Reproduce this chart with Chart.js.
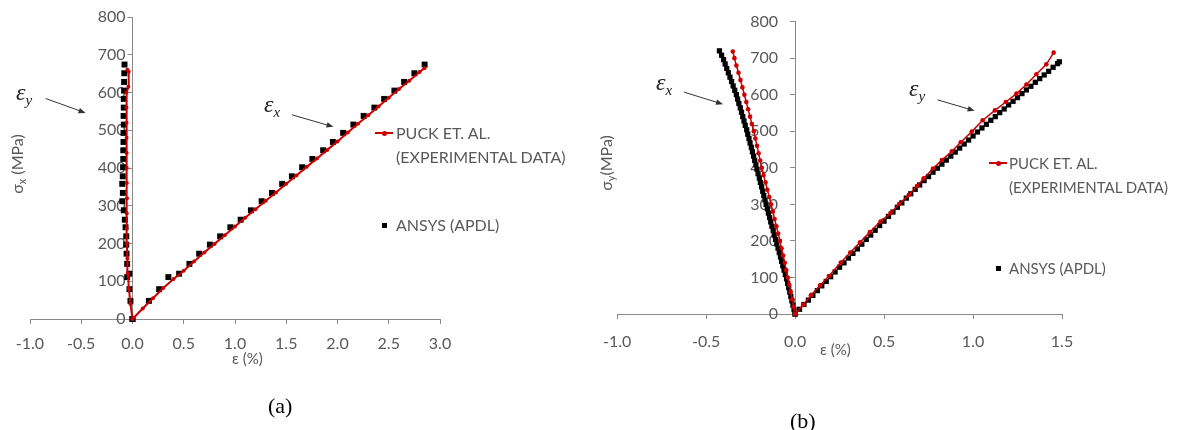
<!DOCTYPE html>
<html><head><meta charset="utf-8">
<script src="https://cdn.jsdelivr.net/npm/chart.js@4"></script>
<style>
html,body{margin:0;padding:0;background:#fff;}
body{width:1189px;height:430px;position:relative;overflow:hidden;font-family:Lato,"Noto Sans",sans-serif;color:#595959;}
canvas{position:absolute;top:0;}
#ca{left:0}
#cb{left:590px}
.t{position:absolute;white-space:nowrap;line-height:24px;}
.eps{position:absolute;white-space:nowrap;font-family:"Liberation Serif","DejaVu Serif",serif;font-style:italic;font-size:24px;line-height:24px;color:#222;}
.eps sub{font-size:15px;vertical-align:-5px;line-height:0;}
.ytitle{position:absolute;white-space:nowrap;transform:translate(-50%,-50%) rotate(-90deg);font-size:16px;}
.ytitle sub{font-size:11px;vertical-align:-3px;line-height:0;}
.lab{position:absolute;font-family:"Liberation Serif","Times New Roman",serif;font-size:22px;color:#000;white-space:nowrap;}
.rl{position:absolute;height:2px;background:#cc0000;}
.rd{position:absolute;width:5px;height:5px;border-radius:50%;background:#cc0000;}
.sq{position:absolute;width:5px;height:5px;background:#000;}
</style></head><body>
<canvas id="ca" width="590" height="430"></canvas>
<canvas id="cb" width="599" height="430"></canvas>

<!-- chart (a) texts -->
<div class="ytitle" style="left:16px;top:164px;">σ<sub>x</sub> (MPa)</div>
<div class="t" style="left:232px;top:346px;font-size:15px;">ε (%)</div>
<div class="eps" style="left:16px;top:80px;">ε<sub>y</sub></div>
<div class="eps" style="left:264px;top:92px;">ε<sub>x</sub></div>
<div class="rl" style="left:375px;top:132px;width:18px;"></div>
<div class="rd" style="left:381.5px;top:130.5px;"></div>
<div class="t" style="left:396px;top:121px;font-size:16px;">PUCK ET. AL.<br>(EXPERIMENTAL DATA)</div>
<div class="sq" style="left:381.5px;top:222.5px;"></div>
<div class="t" style="left:396px;top:213px;font-size:16px;">ANSYS (APDL)</div>
<div class="lab" style="left:268px;top:393px;">(a)</div>

<!-- chart (b) texts -->
<div class="ytitle" style="left:605px;top:163px;">σ<sub>y</sub>(MPa)</div>
<div class="t" style="left:820px;top:337px;font-size:15px;">ε (%)</div>
<div class="eps" style="left:656px;top:70px;">ε<sub>x</sub></div>
<div class="eps" style="left:909px;top:76px;">ε<sub>y</sub></div>
<div class="rl" style="left:989px;top:162px;width:18px;"></div>
<div class="rd" style="left:995.5px;top:160.5px;"></div>
<div class="t" style="left:1009px;top:151px;font-size:15px;">PUCK ET. AL.<br>(EXPERIMENTAL DATA)</div>
<div class="sq" style="left:995.5px;top:265.5px;"></div>
<div class="t" style="left:1009px;top:256px;font-size:15px;">ANSYS (APDL)</div>
<div class="lab" style="left:790px;top:408px;">(b)</div>

<script>
// ---------- Chart (a): sigma_x loading ----------
const aPuckExStrain = [0, 0.1, 0.2, 0.3, 0.4, 0.5, 0.6, 0.7, 0.8, 0.9, 1.0, 1.1, 1.2, 1.3, 1.4, 1.5, 1.6, 1.7, 1.8, 1.9, 2.0, 2.1, 2.2, 2.3, 2.4, 2.5, 2.6, 2.7, 2.8, 2.85];
const aPuckExStress = [0, 28, 55, 82, 106, 128, 152, 176, 199, 222, 245, 268, 291, 313, 335, 358, 380, 403, 425, 448, 470, 494, 517, 540, 563, 586, 609, 631, 654, 665];
const aPuckEyStrain = [0, -0.02, -0.035, -0.045, -0.05, -0.055, -0.058, -0.056, -0.054, -0.055, -0.056, -0.057, -0.058, -0.058, -0.059, -0.06, -0.04, -0.037, -0.05];
const aPuckEyStress = [0, 40, 80, 120, 160, 200, 240, 280, 320, 360, 400, 440, 480, 520, 560, 600, 615, 655, 660];
const aAnsysStress = [0, 48, 79, 111, 120, 146, 173, 197, 219, 243, 263, 288, 312, 334, 358, 378, 402, 424, 447, 469, 493, 515, 538, 560, 583, 605, 628, 651, 674];
const aAnsysExStrain = [0, 0.16, 0.26, 0.35, 0.455, 0.555, 0.65, 0.755, 0.855, 0.955, 1.055, 1.155, 1.26, 1.36, 1.46, 1.555, 1.655, 1.755, 1.86, 1.955, 2.055, 2.155, 2.255, 2.36, 2.455, 2.555, 2.65, 2.75, 2.85];
const aAnsysEyStrain = [0, -0.02, -0.03, -0.052, -0.03, -0.052, -0.058, -0.061, -0.061, -0.068, -0.075, -0.085, -0.1, -0.094, -0.1, -0.095, -0.092, -0.09, -0.09, -0.088, -0.088, -0.085, -0.087, -0.085, -0.085, -0.082, -0.082, -0.08, -0.078];
const aXTicks = [-1.0, -0.5, 0.0, 0.5, 1.0, 1.5, 2.0, 2.5, 3.0];
const aYTicks = [0, 100, 200, 300, 400, 500, 600, 700, 800];

// ---------- Chart (b): sigma_y loading ----------
const bPuckExStress = [0, 20, 40, 60, 80, 100, 120, 140, 160, 180, 200, 220, 240, 260, 280, 300, 320, 340, 360, 380, 400, 420, 440, 460, 480, 500, 520, 540, 560, 580, 600, 620, 640, 660, 680, 700, 718];
const bPuckExStrain = [0, -0.008, -0.016, -0.025, -0.033, -0.041, -0.05, -0.058, -0.067, -0.076, -0.085, -0.095, -0.105, -0.115, -0.125, -0.135, -0.145, -0.156, -0.166, -0.177, -0.187, -0.196, -0.205, -0.214, -0.223, -0.232, -0.243, -0.253, -0.264, -0.274, -0.285, -0.296, -0.307, -0.318, -0.33, -0.341, -0.35];
const bPuckEyStrain = [0, 0.045, 0.089, 0.14, 0.19, 0.257, 0.31, 0.365, 0.42, 0.48, 0.536, 0.585, 0.639, 0.685, 0.723, 0.775, 0.825, 0.881, 0.931, 0.993, 1.054, 1.123, 1.184, 1.244, 1.30, 1.356, 1.412, 1.453];
const bPuckEyStress = [0, 25, 51, 78, 104, 141, 168, 196, 224, 253, 276, 301, 326, 350, 371, 398, 421, 445, 470, 499, 530, 557, 580, 603, 628, 656, 683, 715];
const bAnsysExStress = [0, 12, 24, 36, 48, 60, 72, 84, 96, 108, 120, 132, 144, 156, 168, 180, 192, 204, 216, 228, 240, 252, 264, 276, 288, 300, 312, 324, 336, 348, 360, 372, 384, 396, 408, 420, 432, 444, 456, 468, 480, 492, 504, 516, 528, 540, 552, 564, 576, 588, 600, 612, 624, 636, 648, 660, 672, 684, 696, 708, 720];
const bAnsysExStrain = [0, -0.006, -0.012, -0.018, -0.024, -0.03, -0.036, -0.042, -0.048, -0.055, -0.062, -0.069, -0.076, -0.082, -0.089, -0.096, -0.103, -0.11, -0.117, -0.123, -0.13, -0.137, -0.143, -0.15, -0.156, -0.163, -0.169, -0.176, -0.182, -0.188, -0.195, -0.201, -0.208, -0.214, -0.22, -0.227, -0.233, -0.24, -0.246, -0.253, -0.259, -0.266, -0.272, -0.28, -0.287, -0.294, -0.301, -0.308, -0.316, -0.323, -0.33, -0.339, -0.348, -0.357, -0.366, -0.375, -0.384, -0.393, -0.402, -0.413, -0.425];
const bAnsysEyStrain = [0, 0.025, 0.05, 0.075, 0.1, 0.125, 0.15, 0.175, 0.2, 0.225, 0.25, 0.275, 0.3, 0.325, 0.35, 0.375, 0.4, 0.425, 0.45, 0.475, 0.5, 0.525, 0.55, 0.575, 0.6, 0.625, 0.65, 0.675, 0.7, 0.725, 0.75, 0.775, 0.8, 0.825, 0.85, 0.875, 0.9, 0.925, 0.95, 0.975, 1.0, 1.025, 1.05, 1.075, 1.1, 1.125, 1.15, 1.175, 1.2, 1.225, 1.25, 1.275, 1.3, 1.325, 1.35, 1.375, 1.4, 1.425, 1.45, 1.475, 1.485];
const bAnsysEyStress = [0, 13, 26, 38, 51, 64, 77, 89, 102, 115, 128, 140, 153, 166, 178, 191, 204, 216, 229, 242, 254, 267, 279, 292, 304, 317, 329, 341, 353, 365, 376, 388, 399, 410, 421, 432, 443, 454, 465, 476, 487, 498, 509, 519, 530, 540, 551, 561, 572, 582, 592, 603, 613, 623, 634, 644, 654, 664, 675, 685, 690];
const bXTicks = [-1.0, -0.5, 0.0, 0.5, 1.0, 1.5];
const bYTicks = [0, 100, 200, 300, 400, 500, 600, 700, 800];

// annotation arrows, in data coordinates [strain, stress]
const aArrows = [{from: [-0.847, 584], to: [-0.458, 546]}, {from: [1.555, 541], to: [1.961, 509]}];
const bArrows = [{from: [-0.624, 607], to: [-0.405, 574]}, {from: [0.80, 586], to: [1.009, 556]}];

const RED = '#cc0000';
const AXIS = '#8a8a8a';
const TICKCOL = '#595959';

function pts(xs, ys) { return xs.map((x, i) => ({x: x, y: ys[i]})); }

// place the y axis on strain = 0, and give both axes a box large enough for their labels
const axisPlacement = {
  id: 'axisPlacement',
  afterLayout(chart) {
    const px = chart.scales.x.getPixelForValue(0);
    chart.scales.y.left = px - 90;
    chart.scales.y.right = px;
    chart.scales.x.bottom = chart.scales.x.top + 60;
  }
};
const arrowPlugin = {
  id: 'arrows',
  afterDraw(chart, args, opts) {
    const ctx = chart.ctx, xs = chart.scales.x, ys = chart.scales.y;
    ctx.save();
    ctx.strokeStyle = '#333'; ctx.fillStyle = '#333'; ctx.lineWidth = 1;
    (opts.list || []).forEach(a => {
      const x1 = xs.getPixelForValue(a.from[0]), y1 = ys.getPixelForValue(a.from[1]);
      const x2 = xs.getPixelForValue(a.to[0]), y2 = ys.getPixelForValue(a.to[1]);
      const ang = Math.atan2(y2 - y1, x2 - x1);
      ctx.beginPath(); ctx.moveTo(x1, y1); ctx.lineTo(x2 - 5 * Math.cos(ang), y2 - 5 * Math.sin(ang)); ctx.stroke();
      ctx.beginPath();
      ctx.moveTo(x2, y2);
      ctx.lineTo(x2 - 7 * Math.cos(ang) + 2.8 * Math.sin(ang), y2 - 7 * Math.sin(ang) - 2.8 * Math.cos(ang));
      ctx.lineTo(x2 - 7 * Math.cos(ang) - 2.8 * Math.sin(ang), y2 - 7 * Math.sin(ang) + 2.8 * Math.cos(ang));
      ctx.closePath(); ctx.fill();
    });
    ctx.restore();
  }
};

function makeChart(id, cfg) {
  const font = {family: 'Lato, "Noto Sans", sans-serif', size: 16};
  return new Chart(document.getElementById(id), {
    type: 'scatter',
    data: {datasets: [
      {data: pts(cfg.pxS, cfg.pxY), showLine: true, borderColor: RED, borderWidth: cfg.lw, backgroundColor: RED, pointRadius: cfg.dot, pointBorderWidth: 0, clip: false},
      {data: pts(cfg.pyS, cfg.pyY), showLine: true, borderColor: RED, borderWidth: cfg.lw, backgroundColor: RED, pointRadius: cfg.dot, pointBorderWidth: 0, clip: false},
      {data: pts(cfg.axS, cfg.axY), showLine: false, pointStyle: 'rect', backgroundColor: '#000', borderColor: '#000', pointRadius: cfg.sq, pointBorderWidth: 0, clip: false},
      {data: pts(cfg.ayS, cfg.ayY), showLine: false, pointStyle: 'rect', backgroundColor: '#000', borderColor: '#000', pointRadius: cfg.sq, pointBorderWidth: 0, clip: false}
    ]},
    options: {
      responsive: false, animation: false,
      layout: {padding: cfg.pad},
      plugins: {legend: {display: false}, tooltip: {enabled: false}, arrows: {list: cfg.arrows}},
      scales: {
        x: {
          type: 'linear', position: 'bottom', min: cfg.xT[0], max: cfg.xT[cfg.xT.length - 1],
          afterFit: s => { s.height = 0; },
          afterBuildTicks: s => { s.ticks = cfg.xT.map(v => ({value: v})); },
          ticks: {font: font, color: TICKCOL, padding: cfg.xPad, maxRotation: 0, autoSkip: false, callback: v => Number(v).toFixed(1)},
          grid: {drawOnChartArea: false, drawTicks: true, tickLength: 5, color: AXIS},
          border: {display: true, color: AXIS, width: 1}
        },
        y: {
          type: 'linear', position: 'left', min: 0, max: 800,
          afterFit: s => { s.width = 0; },
          afterBuildTicks: s => { s.ticks = cfg.yT.map(v => ({value: v})); },
          ticks: {font: font, color: TICKCOL, padding: cfg.yPad, autoSkip: false},
          grid: {drawOnChartArea: false, drawTicks: true, tickLength: 5, color: AXIS},
          border: {display: true, color: AXIS, width: 1}
        }
      }
    },
    plugins: [axisPlacement, arrowPlugin]
  });
}

makeChart('ca', {
  pxS: aPuckExStrain, pxY: aPuckExStress, pyS: aPuckEyStrain, pyY: aPuckEyStress,
  axS: aAnsysExStrain, axY: aAnsysStress, ayS: aAnsysEyStrain, ayY: aAnsysStress,
  xT: aXTicks, yT: aYTicks, arrows: aArrows,
  pad: {left: 30, right: 150, top: 17, bottom: 111}, lw: 2, dot: 2, sq: 4.2, xPad: 10, yPad: 2
});
makeChart('cb', {
  pxS: bPuckExStrain, pxY: bPuckExStress, pyS: bPuckEyStrain, pyY: bPuckEyStress,
  axS: bAnsysExStrain, axY: bAnsysExStress, ayS: bAnsysEyStrain, ayY: bAnsysEyStress,
  xT: bXTicks, yT: bYTicks, arrows: bArrows,
  pad: {left: 26, right: 127, top: 18, bottom: 116}, lw: 1.5, dot: 2.3, sq: 3.7, xPad: 13, yPad: 12
});
</script>
</body></html>
